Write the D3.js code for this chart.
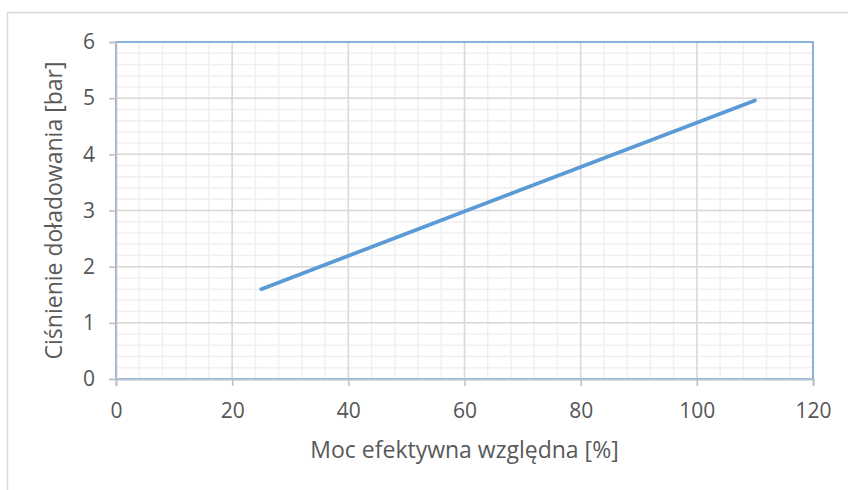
<!DOCTYPE html>
<html>
<head>
<meta charset="utf-8">
<script src="https://cdn.jsdelivr.net/npm/d3@7"></script>
<style>
  body { margin: 0; background: #fff; }
  svg { display: block; font-family: "Open Sans", "Noto Sans", sans-serif; }
</style>
</head>
<body>
<div id="chart"></div>
<script>
// Data
const powerPct = [25, 110];          // Moc efektywna względna [%]
const boostBar = [1.6, 4.96];        // Ciśnienie doładowania [bar]
const xTicks = [0, 20, 40, 60, 80, 100, 120];
const yTicks = [0, 1, 2, 3, 4, 5, 6];

const width = 848;
const height = 490;
const margin = { top: 42, right: 35, bottom: 111, left: 116 };
const plotW = width - margin.left - margin.right;
const plotH = height - margin.top - margin.bottom;

const svg = d3.select("#chart")
    .append("svg")
    .attr("width", width)
    .attr("height", height);

// Outer chart frame
svg.append("rect")
    .attr("x", 7.5)
    .attr("y", 12.5)
    .attr("width", 900)
    .attr("height", 600)
    .attr("fill", "none")
    .attr("stroke", "#d9d9d9")
    .attr("stroke-width", 1.5);

const g = svg.append("g")
    .attr("transform", `translate(${margin.left},${margin.top})`);

const x = d3.scaleLinear().domain([0, 120]).range([0, plotW]);
const y = d3.scaleLinear().domain([0, 6]).range([plotH, 0]);

// Minor grid
const xMinor = d3.range(0, 121, 4);
const yMinor = d3.range(0, 6.01, 0.2);
g.selectAll("line.xminor")
    .data(xMinor)
    .enter()
    .append("line")
    .attr("x1", d => x(d)).attr("x2", d => x(d))
    .attr("y1", 0).attr("y2", plotH)
    .attr("stroke", "#f0f0f0")
    .attr("stroke-width", 1.5);
g.selectAll("line.yminor")
    .data(yMinor)
    .enter()
    .append("line")
    .attr("x1", 0).attr("x2", plotW)
    .attr("y1", d => y(d)).attr("y2", d => y(d))
    .attr("stroke", "#f0f0f0")
    .attr("stroke-width", 1.5);

// Major grid
g.selectAll("line.xmajor")
    .data(xTicks)
    .enter()
    .append("line")
    .attr("x1", d => x(d)).attr("x2", d => x(d))
    .attr("y1", 0).attr("y2", plotH)
    .attr("stroke", "#d9d9d9")
    .attr("stroke-width", 1.5);
g.selectAll("line.ymajor")
    .data(yTicks)
    .enter()
    .append("line")
    .attr("x1", 0).attr("x2", plotW)
    .attr("y1", d => y(d)).attr("y2", d => y(d))
    .attr("stroke", "#d9d9d9")
    .attr("stroke-width", 1.5);

// Plot area border (blue)
g.append("rect")
    .attr("x", 0).attr("y", 0)
    .attr("width", plotW).attr("height", plotH)
    .attr("fill", "none")
    .attr("stroke", "#6fa3d8")
    .attr("stroke-width", 1.5);

// Axes
const xAxis = g.append("g")
    .attr("transform", `translate(0,${plotH})`)
    .call(d3.axisBottom(x).tickValues(xTicks).tickFormat(d3.format("d")).tickSize(7).tickPadding(17));
const yAxis = g.append("g")
    .call(d3.axisLeft(y).tickValues(yTicks).tickFormat(d3.format("d")).tickSize(7).tickPadding(14));

xAxis.select(".domain").attr("stroke", "#b3c3d3").attr("stroke-width", 2);
yAxis.select(".domain").attr("stroke", "#bfbfbf").attr("stroke-width", 1.5);
[xAxis, yAxis].forEach(a => {
    a.selectAll(".tick line").attr("stroke", "#bfbfbf").attr("stroke-width", 1.5);
    a.selectAll(".tick text")
        .style("font-size", "21px")
        .style("font-family", "\"Open Sans\", sans-serif")
        .attr("fill", "#555555");
});

// Series line
const pts = powerPct.map((p, i) => [p, boostBar[i]]);
g.append("path")
    .datum(pts)
    .attr("fill", "none")
    .attr("stroke", "#5b9bd5")
    .attr("stroke-width", 3.75)
    .attr("stroke-linecap", "round")
    .attr("d", d3.line().x(d => x(d[0])).y(d => y(d[1])));

// Axis titles
svg.append("text")
    .attr("x", margin.left + plotW / 2)
    .attr("y", 458)
    .attr("text-anchor", "middle")
    .attr("font-size", "23px")
    .attr("fill", "#595959")
    .text("Moc efektywna względna [%]");

svg.append("text")
    .attr("transform", `translate(62,${margin.top + plotH / 2}) rotate(-90)`)
    .attr("text-anchor", "middle")
    .attr("font-size", "23px")
    .attr("fill", "#595959")
    .text("Ciśnienie doładowania [bar]");
</script>
</body>
</html>
